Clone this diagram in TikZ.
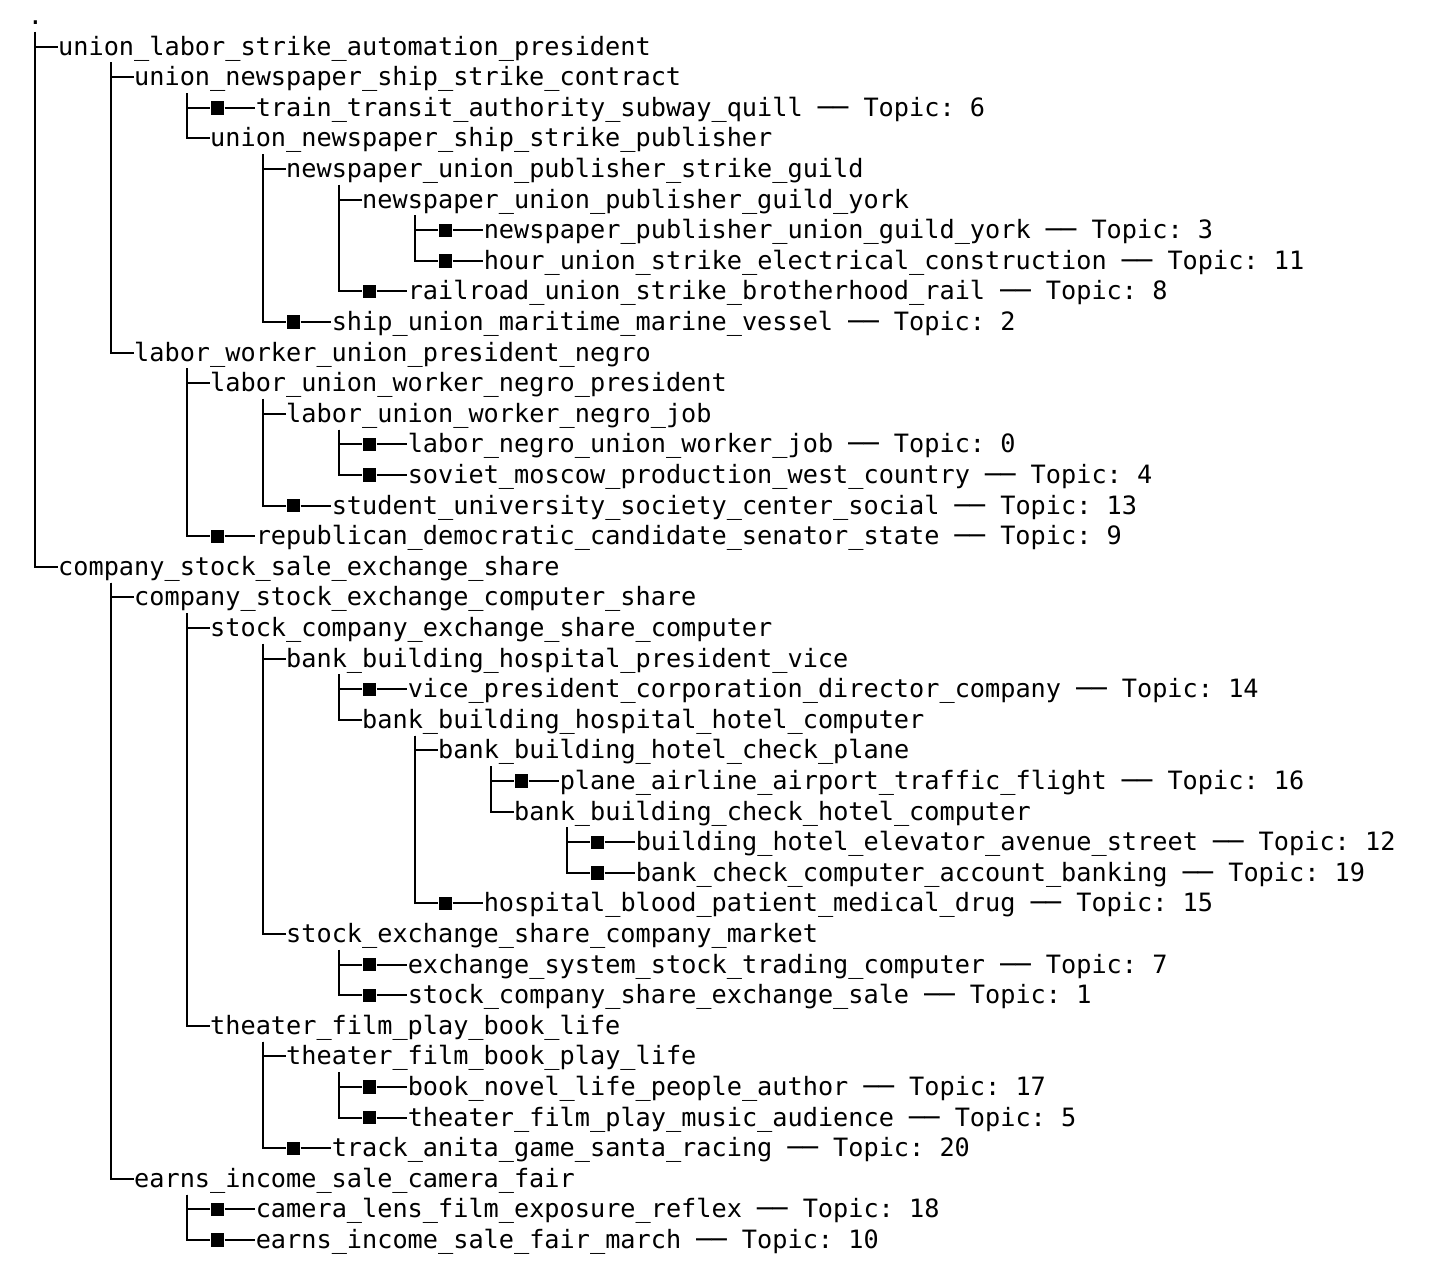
\documentclass[tikz,border=0pt]{standalone}
\usepackage{fontspec}
\newfontfamily\treefont{DejaVu Sans Mono}

\begin{document}
\begin{tikzpicture}[x=7.6pt, y=-15.3pt,
    branch/.style={anchor=west, inner sep=0pt, text height=11.9pt, text depth=3.4pt,
      font=\treefont\fontsize{12.62pt}{15.3pt}\selectfont\frenchspacing},
    leafbox/.style={fill=black, inner sep=0pt, minimum size=6.75pt},
    wire/.style={line width=1pt}]
  \path[use as bounding box, fill=white] (-1.803,-0.526) rectangle (93.07,41.50);

  \node[branch] (root)    at (0,0)  {.};
  \node[branch] (a)       at (2,1)  {union\_labor\_strike\_automation\_president};
  \node[branch] (aa)      at (7,2)  {union\_newspaper\_ship\_strike\_contract};
  \node[leafbox] (s6)     at (12.5,3) {};
  \node[branch] (t6)      at (15,3) {train\_transit\_authority\_subway\_quill ── Topic: 6};
  \node[branch] (aab)     at (12,4) {union\_newspaper\_ship\_strike\_publisher};
  \node[branch] (aaba)    at (17,5) {newspaper\_union\_publisher\_strike\_guild};
  \node[branch] (aabaa)   at (22,6) {newspaper\_union\_publisher\_guild\_york};
  \node[leafbox] (s3)     at (27.5,7) {};
  \node[branch] (t3)      at (30,7) {newspaper\_publisher\_union\_guild\_york ── Topic: 3};
  \node[leafbox] (s11)    at (27.5,8) {};
  \node[branch] (t11)     at (30,8) {hour\_union\_strike\_electrical\_construction ── Topic: 11};
  \node[leafbox] (s8)     at (22.5,9) {};
  \node[branch] (t8)      at (25,9) {railroad\_union\_strike\_brotherhood\_rail ── Topic: 8};
  \node[leafbox] (s2)     at (17.5,10) {};
  \node[branch] (t2)      at (20,10) {ship\_union\_maritime\_marine\_vessel ── Topic: 2};
  \node[branch] (ab)      at (7,11) {labor\_worker\_union\_president\_negro};
  \node[branch] (aba)     at (12,12) {labor\_union\_worker\_negro\_president};
  \node[branch] (abaa)    at (17,13) {labor\_union\_worker\_negro\_job};
  \node[leafbox] (s0)     at (22.5,14) {};
  \node[branch] (t0)      at (25,14) {labor\_negro\_union\_worker\_job ── Topic: 0};
  \node[leafbox] (s4)     at (22.5,15) {};
  \node[branch] (t4)      at (25,15) {soviet\_moscow\_production\_west\_country ── Topic: 4};
  \node[leafbox] (s13)    at (17.5,16) {};
  \node[branch] (t13)     at (20,16) {student\_university\_society\_center\_social ── Topic: 13};
  \node[leafbox] (s9)     at (12.5,17) {};
  \node[branch] (t9)      at (15,17) {republican\_democratic\_candidate\_senator\_state ── Topic: 9};
  \node[branch] (b)       at (2,18) {company\_stock\_sale\_exchange\_share};
  \node[branch] (ba)      at (7,19) {company\_stock\_exchange\_computer\_share};
  \node[branch] (baa)     at (12,20) {stock\_company\_exchange\_share\_computer};
  \node[branch] (baaa)    at (17,21) {bank\_building\_hospital\_president\_vice};
  \node[leafbox] (s14)    at (22.5,22) {};
  \node[branch] (t14)     at (25,22) {vice\_president\_corporation\_director\_company ── Topic: 14};
  \node[branch] (baaab)   at (22,23) {bank\_building\_hospital\_hotel\_computer};
  \node[branch] (baaaba)  at (27,24) {bank\_building\_hotel\_check\_plane};
  \node[leafbox] (s16)    at (32.5,25) {};
  \node[branch] (t16)     at (35,25) {plane\_airline\_airport\_traffic\_flight ── Topic: 16};
  \node[branch] (baaabab) at (32,26) {bank\_building\_check\_hotel\_computer};
  \node[leafbox] (s12)    at (37.5,27) {};
  \node[branch] (t12)     at (40,27) {building\_hotel\_elevator\_avenue\_street ── Topic: 12};
  \node[leafbox] (s19)    at (37.5,28) {};
  \node[branch] (t19)     at (40,28) {bank\_check\_computer\_account\_banking ── Topic: 19};
  \node[leafbox] (s15)    at (27.5,29) {};
  \node[branch] (t15)     at (30,29) {hospital\_blood\_patient\_medical\_drug ── Topic: 15};
  \node[branch] (baab)    at (17,30) {stock\_exchange\_share\_company\_market};
  \node[leafbox] (s7)     at (22.5,31) {};
  \node[branch] (t7)      at (25,31) {exchange\_system\_stock\_trading\_computer ── Topic: 7};
  \node[leafbox] (s1)     at (22.5,32) {};
  \node[branch] (t1)      at (25,32) {stock\_company\_share\_exchange\_sale ── Topic: 1};
  \node[branch] (bab)     at (12,33) {theater\_film\_play\_book\_life};
  \node[branch] (baba)    at (17,34) {theater\_film\_book\_play\_life};
  \node[leafbox] (s17)    at (22.5,35) {};
  \node[branch] (t17)     at (25,35) {book\_novel\_life\_people\_author ── Topic: 17};
  \node[leafbox] (s5)     at (22.5,36) {};
  \node[branch] (t5)      at (25,36) {theater\_film\_play\_music\_audience ── Topic: 5};
  \node[leafbox] (s20)    at (17.5,37) {};
  \node[branch] (t20)     at (20,37) {track\_anita\_game\_santa\_racing ── Topic: 20};
  \node[branch] (bb)      at (7,38) {earns\_income\_sale\_camera\_fair};
  \node[leafbox] (s18)    at (12.5,39) {};
  \node[branch] (t18)     at (15,39) {camera\_lens\_film\_exposure\_reflex ── Topic: 18};
  \node[leafbox] (s10)    at (12.5,40) {};
  \node[branch] (t10)     at (15,40) {earns\_income\_sale\_fair\_march ── Topic: 10};

  \draw[wire] (root.south) |- (a.west);
  \draw[wire] (root.south) |- (b.west);
  \foreach \p/\c in {a/aa, a/ab, aa/s6, aa/aab, aab/aaba, aab/s2, aaba/aabaa, aaba/s8,
      aabaa/s3, aabaa/s11, ab/aba, ab/s9, aba/abaa, aba/s13, abaa/s0, abaa/s4,
      b/ba, b/bb, ba/baa, ba/bab, baa/baaa, baa/baab, baaa/s14, baaa/baaab,
      baaab/baaaba, baaab/s15, baaaba/s16, baaaba/baaabab, baaabab/s12, baaabab/s19,
      baab/s7, baab/s1, bab/baba, bab/s20, baba/s17, baba/s5, bb/s18, bb/s10}
    \draw[wire] ([xshift=26.6pt]\p.south west) |- (\c.west);
  \foreach \n in {0,...,20}
    \draw[wire] (s\n.east) -- (t\n.west);
\end{tikzpicture}
\end{document}
